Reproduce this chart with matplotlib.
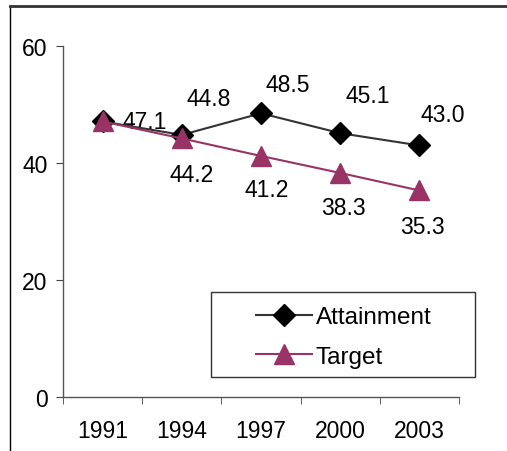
import numpy as np
import matplotlib.pyplot as plt
from matplotlib.lines import Line2D
from matplotlib.patches import Rectangle

plt.rcParams['font.family'] = ['Liberation Sans', 'DejaVu Sans']

years = ['1991', '1994', '1997', '2000', '2003']
attainment = [47.1, 44.8, 48.5, 45.1, 43.0]
target = [47.1, 44.2, 41.2, 38.3, 35.3]

# desplazamiento de las etiquetas (puntos)
att_off = [None, (19, 26), (19, 21), (20, 27), (17, 22)]
tgt_off = [(30, 0), (7, -26), (4, -24), (2, -25), (2, -26)]

fig = plt.figure(figsize=(5.07, 4.52), dpi=100)
ax = fig.add_axes([63/507, 1-398/452, (459-63)/507, (398-47)/452])

x = np.arange(len(years))
ax.plot(x, attainment, color='#333333', lw=1.5, marker='D', ms=11,
        mfc='black', mec='black', label='Attainment', zorder=3)
ax.plot(x, target, color='#993366', lw=1.5, marker='^', ms=14,
        mfc='#993366', mec='#993366', label='Target', zorder=4)

# etiquetas de datos
for i, v in enumerate(attainment):
    if att_off[i] is None:
        continue
    ax.annotate(f'{v:.1f}', (x[i], v), xytext=att_off[i], textcoords='offset points',
                ha='center', va='center', fontsize=16.5)
for i, v in enumerate(target):
    ax.annotate(f'{v:.1f}', (x[i], v), xytext=tgt_off[i], textcoords='offset points',
                ha='center', va='center', fontsize=16.5, zorder=2)

ax.set_xlim(-0.5, len(years) - 0.5)
ax.set_ylim(0, 60)
ax.set_yticks([0, 20, 40, 60])
ax.set_xticks(x)
ax.set_xticklabels(years)
ax.set_xticks(np.arange(-0.5, len(years)), minor=True)
ax.tick_params(axis='x', which='major', length=0, pad=16, labelsize=16.5)
ax.tick_params(axis='x', which='minor', length=5, color='#444444', direction='out')
ax.tick_params(axis='y', length=5, color='#444444', pad=6, labelsize=16.5)

for s in ['top', 'right']:
    ax.spines[s].set_visible(False)
for s in ['left', 'bottom']:
    ax.spines[s].set_color('#555555')
    ax.spines[s].set_linewidth(1.0)

# caja de la leyenda
ax.add_patch(Rectangle(((211-63)/396, (398-378)/351), (475-211)/396, (378-293)/351,
                       transform=ax.transAxes, fill=True, facecolor='white',
                       edgecolor='#333333', lw=1.0, zorder=5, clip_on=False))
leg = ax.legend(loc='upper left', bbox_to_anchor=((256-63)/396, (398-307)/351),
                fontsize=17.5, frameon=False, handlelength=2.3,
                handletextpad=0.15, borderpad=0, labelspacing=0.72, borderaxespad=0)
leg.set_zorder(6)

# marco exterior (solo izquierda y arriba visibles)
fig.add_artist(Line2D([10/507, 10/507], [0, 1-7/452], color='black', lw=1.0))
fig.add_artist(Line2D([10/507, 1], [1-7/452, 1-7/452], color='#333333', lw=2.0))

plt.savefig('out.png', dpi=100)
